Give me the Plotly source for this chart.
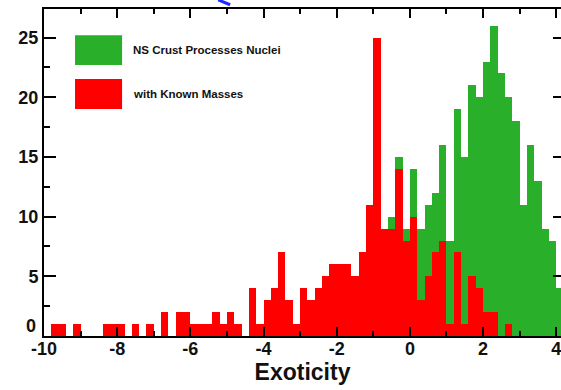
import plotly.graph_objects as go

# Histogram bins (bin width 0.2 in exoticity, first bin starts at -10)
bin_start = -10.0
bin_width = 0.2

# Counts: all NS crust process nuclei (green)
crust_counts = [
    0, 1, 1, 0, 1, 0, 0, 0, 1, 1,
    1, 0, 1, 0, 1, 0, 2, 0, 2, 2,
    1, 1, 1, 2, 1, 2, 1, 0, 4, 1,
    3, 4, 7, 3, 1, 4, 3, 4, 5, 6,
    6, 6, 5, 7, 11, 25, 9, 10, 15, 9,
    14, 9, 11, 12, 16, 8, 19, 15, 21, 20,
    23, 26, 22, 20, 18, 11, 16, 13, 9, 8,
    4,
]

# Counts: nuclei with known masses (red)
known_counts = [
    0, 1, 1, 0, 1, 0, 0, 0, 1, 1,
    1, 0, 1, 0, 1, 0, 2, 0, 2, 2,
    1, 1, 1, 2, 1, 2, 1, 0, 4, 1,
    3, 4, 7, 3, 1, 4, 3, 4, 5, 6,
    6, 6, 5, 7, 11, 25, 9, 9, 14, 8,
    10, 3, 5, 7, 8, 1, 7, 1, 5, 4,
    2, 2, 0, 1, 0, 0, 0, 0, 0, 0,
    0,
]

x_tick_vals = [-10, -8, -6, -4, -2, 0, 2, 4]
x_tick_text = ["-10", "-8", "-6", "-4", "-2", "0", "2", "4"]
y_tick_vals = [0, 5, 10, 15, 20, 25]
y_tick_text = ["", "5", "10", "15", "20", "25"]   # "0" placed separately (raised, as in source)

series_names = ["NS Crust Processes Nuclei", "with Known Masses"]

bin_centers = [round(bin_start + bin_width * (i + 0.5), 2) for i in range(len(crust_counts))]

GREEN = "#2aaf2a"
RED = "#ff0000"
FONT = "Liberation Sans, Arial, Helvetica, sans-serif"
TICKFONT = dict(family=FONT, size=18, color="#111", weight="bold")

fig = go.Figure()
fig.add_trace(go.Bar(x=bin_centers, y=crust_counts, name=series_names[0],
                     marker=dict(color=GREEN, line=dict(width=0)), width=bin_width))
fig.add_trace(go.Bar(x=bin_centers, y=known_counts, name=series_names[1],
                     marker=dict(color=RED, line=dict(width=0)), width=bin_width))
# empty helper trace so the right-hand tick axis is drawn
fig.add_trace(go.Scatter(x=[None], y=[None], yaxis="y2", showlegend=False, hoverinfo="skip"))

fig.update_layout(
    xaxis=dict(
        range=[-10, 4.13], tickvals=x_tick_vals, ticktext=x_tick_text, ticklen=9,
        showline=True, linecolor="black", linewidth=2, mirror="ticks",
        ticks="inside", tickcolor="black", tickwidth=2,
        showgrid=False, zeroline=False, tickfont=TICKFONT, ticklabelstandoff=-5,
        ticklabeloverflow="allow",
        minor=dict(dtick=1, tick0=0, ticklen=5, tickwidth=2, tickcolor="black", ticks="inside"),
        title=dict(text="Exoticity", font=dict(family=FONT, size=23, color="#111", weight="bold"),
                   standoff=2),
    ),
    yaxis=dict(
        range=[0, 27.4], tickvals=y_tick_vals, ticktext=y_tick_text, ticklen=12,
        showline=True, linecolor="black", linewidth=2, mirror=False,
        ticks="inside", tickcolor="black", tickwidth=2,
        showgrid=False, zeroline=False, tickfont=TICKFONT,
        minor=dict(dtick=2.5, tick0=0, ticklen=6, tickwidth=2, tickcolor="black", ticks="inside"),
    ),
    yaxis2=dict(
        range=[0, 27.4], overlaying="y", side="right", tickvals=y_tick_vals,
        showticklabels=False, showline=False, ticks="inside", ticklen=8,
        tickcolor="black", tickwidth=2, showgrid=False, zeroline=False,
    ),
)

# y-axis "0" label (raised slightly above its tick as in the source)
fig.add_annotation(xref="paper", yref="paper", x=-0.012, y=0.03, text="0", showarrow=False,
                   xanchor="right", yanchor="middle", font=TICKFONT)

# Legend drawn as boxes + labels
legend_boxes = [(0.060, 0.151, 0.829, 0.920, GREEN), (0.060, 0.151, 0.694, 0.786, RED)]
legend_text_y = [0.874, 0.739]
for (x0, x1, y0, y1, col), ty, name in zip(legend_boxes, legend_text_y, series_names):
    fig.add_shape(type="rect", xref="paper", yref="paper", x0=x0, x1=x1, y0=y0, y1=y1,
                  fillcolor=col, line=dict(width=0), layer="above")
    fig.add_annotation(xref="paper", yref="paper", x=0.168, y=ty, text=name,
                       showarrow=False, xanchor="left", yanchor="middle",
                       font=dict(family=FONT, size=11.5, color="#111", weight="bold"))

# small blue arrow fragment at top edge (from source image)
fig.add_shape(type="line", xref="paper", yref="paper", x0=0.337, y0=1.028, x1=0.36, y1=1.013,
              line=dict(color="#1a2cff", width=3))

fig.update_layout(
    width=561, height=390,
    margin=dict(l=44, r=0, t=9, b=54),
    barmode="overlay", bargap=0,
    showlegend=False,
    plot_bgcolor="white", paper_bgcolor="white",
)

fig.write_html("out.html", config={"displayModeBar": False},
               post_script="document.body.style.margin='0px';")
